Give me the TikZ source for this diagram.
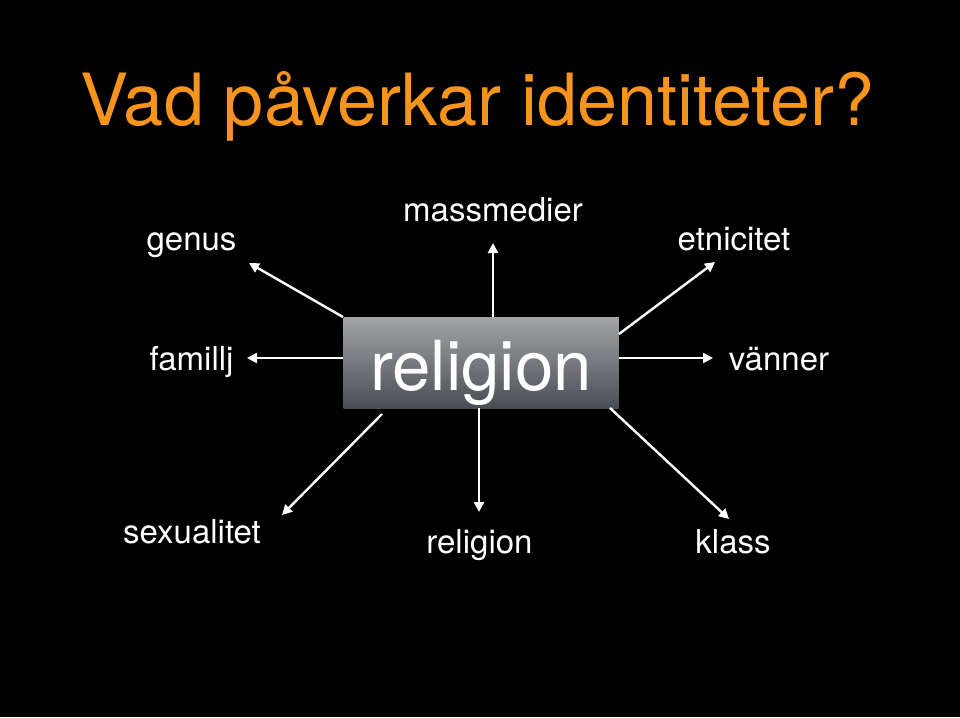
\documentclass[tikz,border=0pt]{standalone}
\usepackage{fontspec}
\setmainfont{TeX Gyre Heros}
\usetikzlibrary{arrows.meta}
\definecolor{titleorange}{RGB}{247,148,30}
\definecolor{boxtop}{RGB}{162,164,166}
\definecolor{boxbottom}{RGB}{74,77,85}
\begin{document}
\begin{tikzpicture}[x=1pt,y=-1pt,
  lbl/.style={text=white,font=\fontsize{33}{36}\selectfont,anchor=base,inner sep=0pt},
  conn/.style={draw=white,line width=2.4pt,-{Triangle[length=10pt,width=10pt]}}]
\fill[black] (0,0) rectangle (960,717);
\useasboundingbox (0,0) rectangle (960,717);
\node[anchor=base west,text=titleorange,font=\fontsize{72}{80}\selectfont,inner sep=0pt] (title) at (80,125) {Vad påverkar identiteter?};
\node[minimum width=275pt,minimum height=91pt,inner sep=0pt,top color=boxtop,bottom color=boxbottom,draw=none] (relbox) at (481,362.5) {};
\node[anchor=base,text=white,font=\fontsize{69}{75}\selectfont,inner sep=0pt] (reltext) at (481,390) {religion};
\node[lbl] (genus) at (191.5,250) {genus};
\node[lbl] (mass) at (493,221) {massmedier};
\node[lbl] (etni) at (734,250) {etnicitet};
\node[lbl] (fam) at (191.5,370) {famillj};
\node[lbl] (van) at (779,370) {vänner};
\node[lbl] (sex) at (192,543) {sexualitet};
\node[lbl] (rel) at (479.5,553) {religion};
\node[lbl] (klass) at (733,553) {klass};
% tails
\coordinate (tg) at (343,317);
\coordinate (tm) at (493,317);
\coordinate (te) at (619,334);
\coordinate (tf) at (343,358);
\coordinate (tv) at (619,358);
\coordinate (ts) at (382,414);
\coordinate (tr) at (479,408);
\coordinate (tk) at (610,408);
% heads
\coordinate (hg) at (249,263);
\coordinate (hm) at (493,243);
\coordinate (he) at (715,262);
\coordinate (hf) at (247,358);
\coordinate (hv) at (713,358);
\coordinate (hs) at (282,515);
\coordinate (hr) at (479,512);
\coordinate (hk) at (729,519);
\draw[conn] (tg) -- (hg);
\draw[conn] (tm) -- (hm);
\draw[conn] (te) -- (he);
\draw[conn] (tf) -- (hf);
\draw[conn] (tv) -- (hv);
\draw[conn] (ts) -- (hs);
\draw[conn] (tr) -- (hr);
\draw[conn] (tk) -- (hk);
\end{tikzpicture}
\end{document}
